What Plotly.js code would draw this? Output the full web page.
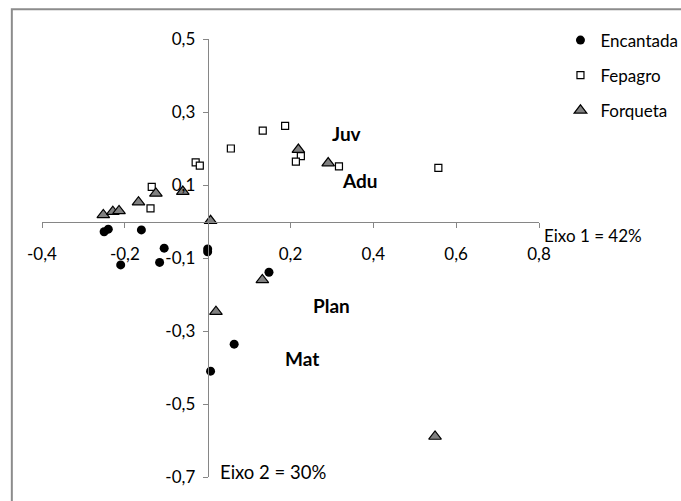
<!DOCTYPE html>
<html><head><meta charset="utf-8">
<script src="https://cdn.plot.ly/plotly-3.0.1.min.js"></script>
<style>html,body{margin:0;padding:0;background:#fff}#chart{width:681px;height:501px}</style>
</head><body><div id="chart"></div>
<script>
// Series (Eixo 1, Eixo 2)
const encantadaX = [-0.250, -0.240, -0.160, -0.105, -0.116, -0.210, 0.000, 0.000, 0.148, 0.064, 0.007];
const encantadaY = [-0.028, -0.021, -0.023, -0.073, -0.112, -0.119, -0.075, -0.083, -0.139, -0.336, -0.410];
const fepagroX = [-0.135, -0.138, -0.029, -0.019, 0.056, 0.133, 0.187, 0.225, 0.213, 0.317, 0.557];
const fepagroY = [0.095, 0.036, 0.162, 0.153, 0.200, 0.249, 0.262, 0.179, 0.164, 0.151, 0.147];
const forquetaX = [-0.252, -0.229, -0.214, -0.167, -0.125, -0.060, 0.007, 0.219, 0.291, 0.132, 0.020, 0.549];
const forquetaY = [0.018, 0.027, 0.029, 0.053, 0.077, 0.082, 0.002, 0.197, 0.160, -0.160, -0.247, -0.589];

const seriesNames = ['Encantada', 'Fepagro', 'Forqueta'];
const xTickVals = [-0.4, -0.2, 0.2, 0.4, 0.6, 0.8];
const xTickText = ['-0,4', '-0,2', '0,2', '0,4', '0,6', '0,8'];
const yTickVals = [0.5, 0.3, 0.1, -0.1, -0.3, -0.5, -0.7];
const yTickText = ['0,5', '0,3', '0,1', '-0,1', '-0,3', '-0,5', '-0,7'];
const groupLabels = ['Juv', 'Adu', 'Plan', 'Mat'];
const axisLabels = ['Eixo 1 = 42%', 'Eixo 2 = 30%'];

const FONT = 'Lato, "Open Sans", sans-serif';
const AX = '#868686';

const traces = [
  {x: encantadaX, y: encantadaY, name: seriesNames[0], legendgroup: 'a', type: 'scatter', mode: 'markers',
   marker: {symbol: 'circle', size: 9, color: '#000000', line: {width: 0}}},
  {x: fepagroX, y: fepagroY, name: seriesNames[1], legendgroup: 'b', type: 'scatter', mode: 'markers',
   marker: {symbol: 'square', size: 7, color: '#ffffff', line: {width: 1.2, color: '#000000'}}},
  {x: forquetaX, y: forquetaY, name: seriesNames[2], legendgroup: 'c', type: 'scatter', mode: 'markers',
   marker: {symbol: 'triangle-up', size: 11, color: '#808080', line: {width: 1.2, color: '#000000'}}}
];

const layout = {
  width: 681, height: 501,
  paper_bgcolor: '#ffffff', plot_bgcolor: 'rgba(0,0,0,0)',
  margin: {l: 41.7, r: 141.7, t: 39.3, b: 24.3},
  font: {family: FONT, color: '#000000'},
  showlegend: true,
  legend: {xref: 'container', yref: 'container', x: 0.823, y: 0.955, xanchor: 'left', yanchor: 'top',
           font: {family: FONT, size: 17, color: '#000'}, traceorder: 'grouped', tracegroupgap: 10,
           bgcolor: 'rgba(0,0,0,0)', itemwidth: 30},
  xaxis: {range: [-0.4, 0.8], anchor: 'free', position: 0.7/1.2, showgrid: false, zeroline: false,
          showline: true, linecolor: AX, linewidth: 1, ticks: 'outside', ticklen: 5, tickcolor: AX,
          tickvals: xTickVals, ticktext: xTickText, tickfont: {family: FONT, size: 17, color: '#000'},
          ticklabelstandoff: 12},
  yaxis: {range: [-0.7, 0.5], anchor: 'free', position: 0.4/1.2, showgrid: false, zeroline: false,
          showline: true, linecolor: AX, linewidth: 1, ticks: 'outside', ticklen: 5, tickcolor: AX,
          tickvals: yTickVals, ticktext: yTickText, tickfont: {family: FONT, size: 17, color: '#000'},
          ticklabelstandoff: 4},
  shapes: [
    {type: 'rect', xref: 'paper', yref: 'paper', x0: -0.0607, x1: 3, y0: -3, y1: 1.068,
     line: {color: '#8c8c8c', width: 2}, fillcolor: 'rgba(0,0,0,0)', layer: 'below'}
  ],
  annotations: [
    {text: '<b>' + groupLabels[0] + '</b>', x: 0.336, y: 0.240, xref: 'x', yref: 'y', showarrow: false, font: {family: FONT, size: 19}},
    {text: '<b>' + groupLabels[1] + '</b>', x: 0.369, y: 0.112, xref: 'x', yref: 'y', showarrow: false, font: {family: FONT, size: 19}},
    {text: '<b>' + groupLabels[2] + '</b>', x: 0.298, y: -0.231, xref: 'x', yref: 'y', showarrow: false, font: {family: FONT, size: 19}},
    {text: '<b>' + groupLabels[3] + '</b>', x: 0.228, y: -0.374, xref: 'x', yref: 'y', showarrow: false, font: {family: FONT, size: 19}},
    {text: axisLabels[0], x: 1.006, y: 0.5503, xref: 'paper', yref: 'paper', xanchor: 'left', yanchor: 'middle', showarrow: false, font: {family: FONT, size: 17}},
    {text: axisLabels[1], x: 0.025, y: -0.686, xref: 'x', yref: 'y', xanchor: 'left', showarrow: false, font: {family: FONT, size: 18.5}}
  ]
};

Plotly.newPlot('chart', traces, layout, {displayModeBar: false, staticPlot: true});
</script>
</body></html>
